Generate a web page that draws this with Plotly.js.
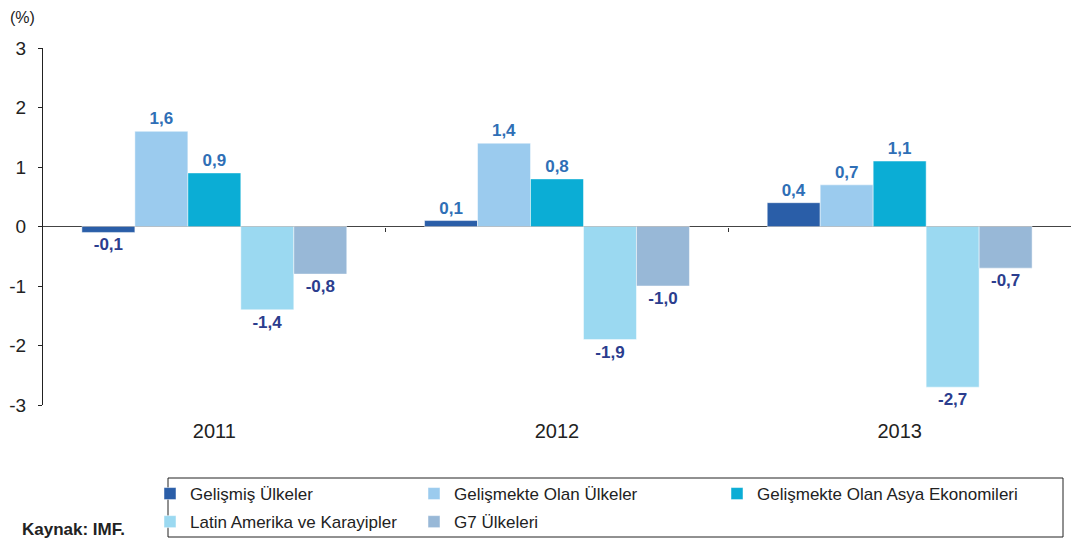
<!DOCTYPE html>
<html>
<head>
<meta charset="utf-8">
<script src="https://cdn.plot.ly/plotly-3.0.1.min.js"></script>
<style>html,body{margin:0;padding:0;background:#fff;}#chart{width:1071px;height:538px;}</style>
</head>
<body>
<div id="chart"></div>
<script>
const years = ["2011", "2012", "2013"];
const seriesNames = ["Gelişmiş Ülkeler", "Gelişmekte Olan Ülkeler", "Gelişmekte Olan Asya Ekonomileri", "Latin Amerika ve Karayipler", "G7 Ülkeleri"];
const gelismis = [-0.1, 0.1, 0.4];
const gelismekte = [1.6, 1.4, 0.7];
const asya = [0.9, 0.8, 1.1];
const latin = [-1.4, -1.9, -2.7];
const g7 = [-0.8, -1.0, -0.7];
const yTickVals = [-3, -2, -1, 0, 1, 2, 3];
const yTickText = ["-3", "-2", "-1", "0", "1", "2", "3"];

const seriesValues = [gelismis, gelismekte, asya, latin, g7];
const colors = ["#2a5ea8", "#9bcbee", "#0badd5", "#9bd9f1", "#98b8d7"];
const legendIds = ["legend", "legend2", "legend3", "legend", "legend2"];
const FONT = "Liberation Sans, Arial, Helvetica, sans-serif";

const fmt = v => v.toFixed(1).replace('.', ',');

const traces = seriesValues.map((vals, i) => ({
  type: 'bar',
  name: seriesNames[i],
  x: years,
  y: vals,
  marker: {color: colors[i], line: {color: 'rgba(255,255,255,0.6)', width: 0.8}},
  text: vals.map(fmt),
  textposition: 'outside',
  constraintext: 'none',
  cliponaxis: false,
  textfont: {family: FONT, size: 17, weight: 'bold', color: vals.map(v => v >= 0 ? '#2f6fb6' : '#2b3d8e')},
  hoverinfo: 'x+y+name',
  legend: legendIds[i],
  legendgroup: 'g' + i
}));

// invisible helper trace so the boundary-tick axis is drawn
traces.push({type: 'scatter', x: [0], y: [0], xaxis: 'x2', mode: 'markers', marker: {opacity: 0}, showlegend: false, hoverinfo: 'skip'});

const W = 1071, H = 538;
const legendFont = {family: FONT, size: 17, color: '#222'};
const legBase = {orientation: 'v', xref: 'container', yref: 'container', xanchor: 'left', yanchor: 'top',
  font: legendFont, bgcolor: 'rgba(0,0,0,0)', borderwidth: 0, tracegroupgap: 3, itemclick: false, itemdoubleclick: false};

const layout = {
  width: W, height: H,
  margin: {l: 43, r: 0, t: 48, b: 133, autoexpand: false},
  paper_bgcolor: '#fff', plot_bgcolor: '#fff',
  font: {family: FONT, color: '#222'},
  barmode: 'group',
  bargap: 0.227,
  bargroupgap: 0,
  showlegend: true,
  legend: Object.assign({}, legBase, {x: 150 / W, y: 1 - 476 / H}),
  legend2: Object.assign({}, legBase, {x: 414 / W, y: 1 - 476 / H}),
  legend3: Object.assign({}, legBase, {x: 717 / W, y: 1 - 476 / H}),
  xaxis: {
    type: 'category',
    categoryarray: years,
    showline: false, showgrid: false, zeroline: false,
    ticks: '',
    tickangle: 0,
    tickfont: {family: FONT, size: 20, color: '#222'},
    ticklabelstandoff: 12,
    fixedrange: true
  },
  xaxis2: {
    overlaying: 'x', anchor: 'free', position: 0.5,
    range: [-0.5, 2.5],
    tickmode: 'array', tickvals: [0.5, 1.5, 2.5],
    ticks: 'outside', ticklen: 4, tickcolor: '#333', tickwidth: 1,
    showticklabels: false, showline: false, showgrid: false, zeroline: false,
    fixedrange: true
  },
  yaxis: {
    range: [-3, 3],
    tickmode: 'array', tickvals: yTickVals, ticktext: yTickText,
    showline: true, linecolor: '#222', linewidth: 1,
    ticks: 'outside', ticklen: 4, tickcolor: '#222',
    showgrid: false,
    zeroline: true, zerolinecolor: '#444', zerolinewidth: 1.5,
    tickfont: {family: FONT, size: 19, color: '#222'},
    ticklabelstandoff: 8,
    fixedrange: true
  },
  shapes: [{
    type: 'rect', xref: 'paper', yref: 'paper',
    x0: (168 - 43) / 1028, x1: (1063 - 43) / 1028,
    y0: (405 - 478) / 357, y1: (405 - 537) / 357,
    line: {color: '#222', width: 1}, fillcolor: 'rgba(0,0,0,0)'
  }],
  annotations: [
    {text: '(%)', xref: 'paper', yref: 'paper', x: (8 - 43) / 1028, y: (405 - 17) / 357,
     xanchor: 'left', yanchor: 'middle', showarrow: false, font: {family: FONT, size: 16, color: '#222'}},
    {text: '<b>Kaynak: IMF.</b>', xref: 'paper', yref: 'paper', x: (20 - 43) / 1028, y: (405 - 529) / 357,
     xanchor: 'left', yanchor: 'middle', showarrow: false, font: {family: FONT, size: 17, color: '#222'}}
  ]
};

Plotly.newPlot('chart', traces, layout, {displayModeBar: false, staticPlot: true});
</script>
</body>
</html>
